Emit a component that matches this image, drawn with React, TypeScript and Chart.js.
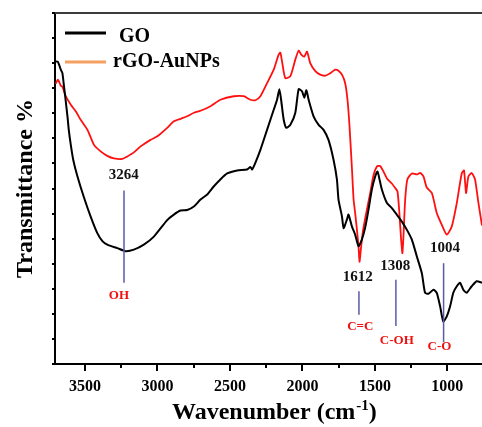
import React, { useEffect, useRef } from "react";
import { Chart, registerables } from "chart.js";

Chart.register(...registerables);

// GO (black) spectrum
const goWavenumber = [3702, 3688, 3679, 3667, 3656, 3645, 3634, 3621, 3612, 3598, 3581, 3552, 3507, 3461, 3415, 3380, 3346, 3277, 3220, 3163, 3094, 3025, 2933, 2887, 2841, 2795, 2749, 2703, 2657, 2612, 2566, 2519, 2450, 2382, 2359, 2347, 2325, 2290, 2244, 2198, 2175, 2159, 2147, 2129, 2111, 2083, 2049, 2026, 2003, 1987, 1973, 1957, 1923, 1888, 1854, 1820, 1785, 1762, 1751, 1727, 1716, 1693, 1682, 1658, 1636, 1613, 1590, 1567, 1544, 1521, 1498, 1482, 1468, 1452, 1417, 1383, 1349, 1314, 1280, 1245, 1211, 1176, 1154, 1131, 1096, 1073, 1050, 1028, 1004, 981, 959, 935, 912, 890, 867, 832, 798, 761];
const goTransmittance = [60.35, 60.3, 59.7, 58.7, 58.0, 55.4, 52.7, 49.4, 46.7, 43.7, 40.7, 37.4, 33.2, 29.4, 26.1, 24.5, 23.8, 23.1, 22.5, 22.8, 23.8, 25.4, 28.7, 29.8, 30.6, 30.7, 31.4, 32.8, 33.8, 35.4, 36.8, 38.0, 38.6, 38.8, 39.3, 38.8, 40.1, 42.7, 46.7, 50.7, 52.7, 54.8, 52.7, 48.7, 47.1, 47.7, 50.1, 54.8, 54.4, 53.1, 54.6, 52.7, 49.4, 47.7, 46.7, 44.7, 40.7, 36.8, 32.8, 29.4, 27.1, 28.8, 29.8, 27.4, 25.8, 23.5, 24.8, 27.2, 30.8, 34.8, 37.4, 38.4, 36.8, 34.8, 32.1, 31.1, 29.8, 28.4, 26.8, 24.8, 21.5, 18.1, 14.2, 14.0, 14.8, 14.2, 11.5, 8.5, 9.5, 11.5, 14.2, 15.5, 16.2, 14.8, 14.2, 15.5, 16.5, 16.2];

// rGO-AuNPs (red) spectrum
const rgoWavenumber = [3702, 3688, 3679, 3667, 3656, 3633, 3598, 3564, 3530, 3483, 3438, 3392, 3346, 3300, 3242, 3208, 3163, 3116, 3048, 3001, 2933, 2887, 2841, 2795, 2749, 2703, 2634, 2566, 2474, 2405, 2359, 2324, 2290, 2244, 2198, 2164, 2152, 2141, 2118, 2083, 2049, 2026, 2008, 1987, 1968, 1946, 1911, 1877, 1842, 1808, 1773, 1751, 1727, 1705, 1689, 1675, 1658, 1647, 1636, 1624, 1613, 1606, 1597, 1583, 1555, 1532, 1510, 1486, 1464, 1441, 1417, 1383, 1360, 1344, 1331, 1319, 1310, 1303, 1291, 1276, 1245, 1211, 1188, 1165, 1142, 1107, 1073, 1039, 1004, 970, 935, 901, 885, 871, 855, 832, 809, 787, 761];
const rgoTransmittance = [55.9, 56.7, 56.3, 55.5, 55.3, 53.4, 51.7, 50.4, 48.7, 46.7, 43.7, 42.4, 41.5, 41.0, 40.9, 41.4, 42.2, 43.4, 44.7, 45.4, 47.1, 48.4, 48.9, 49.4, 50.1, 50.5, 51.4, 52.7, 53.4, 53.4, 52.7, 52.6, 53.4, 56.0, 58.7, 61.7, 62.1, 60.4, 57.0, 57.4, 60.7, 62.5, 61.7, 61.3, 62.3, 60.0, 58.4, 57.7, 57.5, 58.0, 58.7, 58.5, 57.7, 56.0, 52.7, 47.4, 38.8, 32.8, 30.1, 26.8, 23.5, 20.4, 22.8, 26.4, 30.8, 34.1, 37.6, 39.4, 39.5, 38.4, 37.0, 36.0, 35.1, 34.4, 30.1, 24.8, 22.1, 25.4, 32.8, 36.8, 38.0, 37.8, 38.1, 37.4, 35.2, 34.1, 30.1, 27.8, 25.8, 27.4, 32.1, 38.0, 38.6, 34.1, 37.4, 38.1, 36.8, 32.4, 27.6];

const xTickValues = [3500, 3000, 2500, 2000, 1500, 1000];
const xMinorTickValues = [3250, 2750, 2250, 1750, 1250];

const seriesNames = ["GO", "rGO-AuNPs"];

// peak annotations
const peakLabels = ["3264", "1612", "1308", "1004"];
const peakLabelX = [3233, 1618, 1360, 1016];
const peakLabelY = [36.9, 16.5, 18.8, 22.3];
const peakLineX = [3231, 1610, 1355, 1026];
const peakLineTop = [34.6, 14.5, 16.8, 20.1];
const peakLineBottom = [16.2, 9.8, 7.6, 4.4];
const groupLabels = ["OH", "C=C", "C-OH", "C-O"];
const groupLabelX = [3266, 1601, 1349, 1054];
const groupLabelY = [13.0, 6.84, 4.0, 2.85];

const SERIF = "'Liberation Serif', 'Times New Roman', serif";

const decorPlugin = {
  id: "decor",
  afterDraw(chart: any) {
    const { ctx, chartArea, scales } = chart;
    const xs = scales.x;
    const ys = scales.y;
    ctx.save();
    // top frame
    ctx.strokeStyle = "#3c3c3c";
    ctx.lineWidth = 2;
    ctx.beginPath();
    ctx.moveTo(chartArea.left, chartArea.top);
    ctx.lineTo(chartArea.right, chartArea.top);
    ctx.stroke();
    // minor x ticks
    ctx.strokeStyle = "#000";
    ctx.lineWidth = 2;
    xMinorTickValues.forEach((v) => {
      const px = Math.round(xs.getPixelForValue(v));
      ctx.beginPath();
      ctx.moveTo(px, chartArea.bottom);
      ctx.lineTo(px, chartArea.bottom + 4);
      ctx.stroke();
    });
    // peak lines
    ctx.strokeStyle = "#5a5aa8";
    ctx.lineWidth = 1.5;
    peakLineX.forEach((v, i) => {
      const px = xs.getPixelForValue(v);
      ctx.beginPath();
      ctx.moveTo(px, ys.getPixelForValue(peakLineTop[i]));
      ctx.lineTo(px, ys.getPixelForValue(peakLineBottom[i]));
      ctx.stroke();
    });
    // peak numbers
    ctx.textAlign = "center";
    ctx.textBaseline = "alphabetic";
    ctx.fillStyle = "#111";
    ctx.font = `bold 15px ${SERIF}`;
    peakLabels.forEach((t, i) => {
      ctx.fillText(t, xs.getPixelForValue(peakLabelX[i]), ys.getPixelForValue(peakLabelY[i]));
    });
    ctx.fillStyle = "#ee1111";
    ctx.font = `bold 13px ${SERIF}`;
    groupLabels.forEach((t, i) => {
      ctx.fillText(t, xs.getPixelForValue(groupLabelX[i]), ys.getPixelForValue(groupLabelY[i]));
    });
    // legend
    ctx.lineWidth = 3;
    ctx.strokeStyle = "#000";
    ctx.beginPath();
    ctx.moveTo(65, 33);
    ctx.lineTo(106, 33);
    ctx.stroke();
    ctx.strokeStyle = "#f4a060";
    ctx.beginPath();
    ctx.moveTo(65, 62);
    ctx.lineTo(106, 62);
    ctx.stroke();
    ctx.fillStyle = "#000";
    ctx.textAlign = "left";
    ctx.font = `bold 20px ${SERIF}`;
    ctx.fillText(seriesNames[0], 119, 41.5);
    ctx.fillText(seriesNames[1], 113, 66.5);
    // x title
    ctx.font = `bold 24px ${SERIF}`;
    const main = "Wavenumber (cm";
    let tx = 172;
    const by = 419;
    ctx.fillText(main, tx, by);
    tx += ctx.measureText(main).width;
    ctx.font = `bold 15px ${SERIF}`;
    ctx.fillText("-1", tx + 1, by - 9);
    tx += ctx.measureText("-1").width + 1;
    ctx.font = `bold 24px ${SERIF}`;
    ctx.fillText(")", tx, by);
    // y title
    ctx.translate(31.5, (chartArea.top + chartArea.bottom) / 2);
    ctx.rotate(-Math.PI / 2);
    ctx.textAlign = "center";
    ctx.fillText("Transmittance %", 0, 0);
    ctx.restore();
  },
};

export default function App() {
  const ref = useRef<HTMLCanvasElement>(null);
  useEffect(() => {
    if (!ref.current) return;
    const chart = new Chart(ref.current, {
      type: "line",
      data: {
        datasets: [
          {
            label: seriesNames[0],
            data: goWavenumber.map((x, i) => ({ x, y: goTransmittance[i] })),
            borderColor: "#000000",
            borderWidth: 2,
            pointRadius: 0,
            tension: 0.2,
          },
          {
            label: seriesNames[1],
            data: rgoWavenumber.map((x, i) => ({ x, y: rgoTransmittance[i] })),
            borderColor: "#ff1010",
            borderWidth: 1.8,
            pointRadius: 0,
            tension: 0.2,
          },
        ],
      },
      options: {
        animation: false,
        responsive: false,
        devicePixelRatio: 1,
        layout: { padding: { top: 13, left: 0, right: 0, bottom: 0 } },
        plugins: { legend: { display: false }, tooltip: { enabled: false } },
        scales: {
          x: {
            type: "linear",
            reverse: true,
            min: 761,
            max: 3707,
            afterFit: (s: any) => {
              s.height = 63;
            },
            afterBuildTicks: (s: any) => {
              s.ticks = xTickValues.map((v) => ({ value: v }));
            },
            ticks: {
              autoSkip: false,
              maxRotation: 0,
              color: "#000",
              padding: 6,
              font: { family: SERIF, size: 16, weight: "bold" },
              callback: (v: any) => String(v),
            },
            grid: {
              drawOnChartArea: false,
              drawTicks: true,
              tickLength: 7,
              color: "#000",
              lineWidth: 2,
            },
            border: { display: true, color: "#000", width: 2 },
          },
          y: {
            type: "linear",
            min: 0,
            max: 70,
            afterFit: (s: any) => {
              s.width = 55;
            },
            ticks: { display: false, stepSize: 5 },
            grid: {
              drawOnChartArea: false,
              drawTicks: true,
              tickLength: 3,
              color: "#000",
              lineWidth: 2,
            },
            border: { display: true, color: "#000", width: 2 },
          },
        },
      },
      plugins: [decorPlugin],
    });
    return () => chart.destroy();
  }, []);
  return (
    <div style={{ position: "absolute", left: 0, top: 0, width: 482, height: 427, background: "#fff" }}>
      <canvas ref={ref} width={482} height={427} />
    </div>
  );
}
